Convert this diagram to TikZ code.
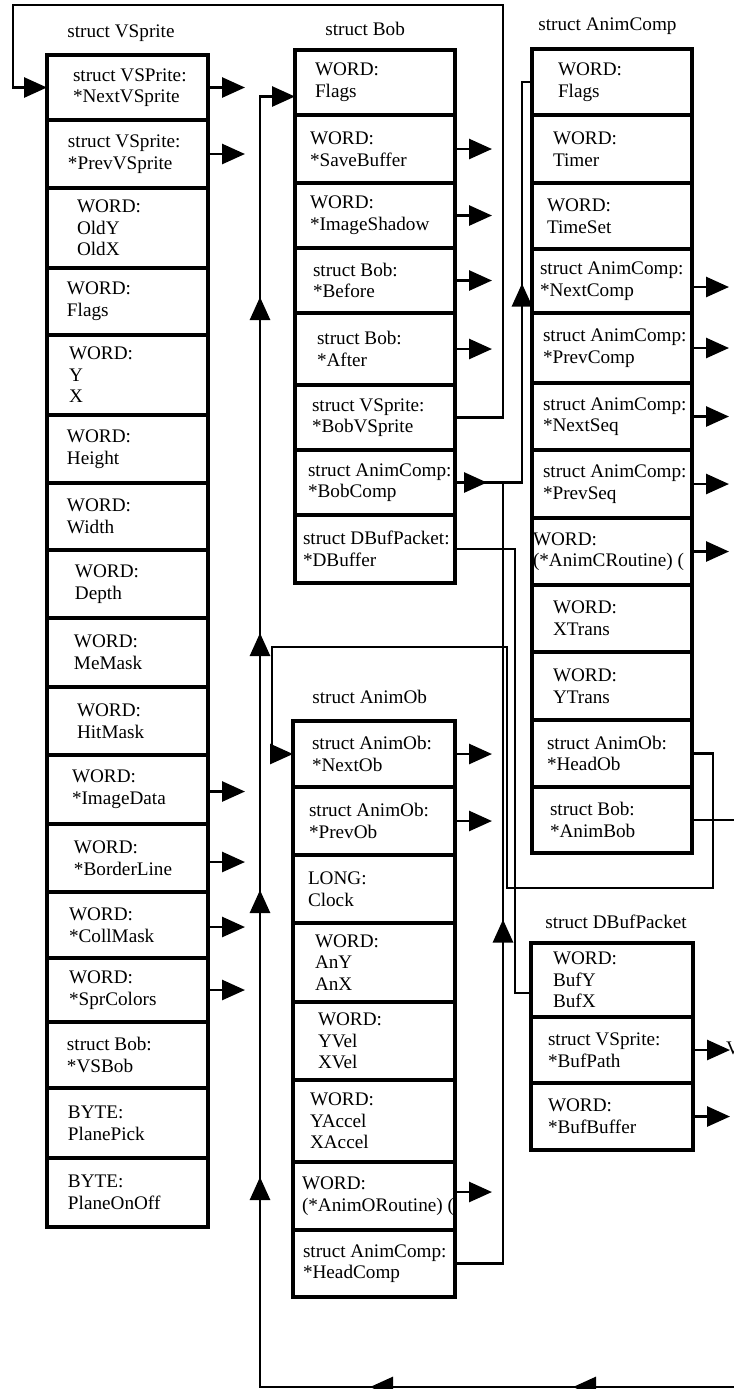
\documentclass[tikz,border=0pt]{standalone}
\usepackage{fontspec}
\setmainfont{Liberation Serif}
\usetikzlibrary{arrows.meta,decorations.markings}
\newcommand\mkfld[7]{%
  \node[cellbox, minimum width={#5*0.5pt}, minimum height={(#4-#3)*0.5pt}, anchor=north west] (#1) at (#2,#3) {};
  \node[celltext, anchor=west] (#1t) at ([xshift=#6*0.5pt]#1.west) {#7};}
\newcommand\mkptr[2][0pt]{%
  \coordinate (#2p) at ([xshift=18.5pt, yshift=#1]#2.east);
  \draw[conn,-bigtri] ([yshift=#1]#2.east) -- (#2p);}
\begin{document}
\begin{tikzpicture}[x=0.5pt,y=-0.5pt,
  cellbox/.style={draw, line width=1.8pt, inner sep=0pt, outer sep=0pt},
  celltext/.style={font=\fontsize{9.6}{10.8}\selectfont, align=left, inner sep=0pt, outer sep=0pt},
  ttl/.style={font=\fontsize{9.6}{10.8}\selectfont, inner sep=0pt, anchor=base west},
  conn/.style={line width=1.4pt},
  bigtri/.tip={Triangle[length=11.5pt,width=10pt]},
  ]
\fill[white] (0,0) rectangle (734,1389);
\useasboundingbox (0,0) rectangle (734,1389);

% ---------- struct VSprite ----------
\node[ttl] (tv) at (67,37) {struct VSprite};
\mkfld{v1}{47}{55}{120}{161}{26}{struct VSPrite:\\*NextVSprite}
\mkfld{v2}{47}{120}{188}{161}{21}{struct VSprite:\\*PrevVSprite}
\mkfld{v3}{47}{188}{268}{161}{30}{WORD:\\OldY\\OldX}
\mkfld{v4}{47}{268}{335}{161}{20}{WORD:\\Flags}
\mkfld{v5}{47}{335}{415}{161}{22}{WORD:\\Y\\X}
\mkfld{v6}{47}{415}{483}{161}{20}{WORD:\\Height}
\mkfld{v7}{47}{483}{550}{161}{20}{WORD:\\Width}
\mkfld{v8}{47}{550}{618}{161}{28}{WORD:\\Depth}
\mkfld{v9}{47}{618}{687}{161}{27}{WORD:\\MeMask}
\mkfld{v10}{47}{687}{755}{161}{30}{WORD:\\HitMask}
\mkfld{v11}{47}{755}{824}{161}{25}{WORD:\\*ImageData}
\mkfld{v12}{47}{824}{892}{161}{27}{WORD:\\*BorderLine}
\mkfld{v13}{47}{892}{958}{161}{22}{WORD:\\*CollMask}
\mkfld{v14}{47}{958}{1022}{161}{22}{WORD:\\*SprColors}
\mkfld{v15}{47}{1022}{1088}{161}{20}{struct Bob:\\*VSBob}
\mkfld{v16}{47}{1088}{1158}{161}{21}{BYTE:\\PlanePick}
\mkfld{v17}{47}{1158}{1227}{161}{21}{BYTE:\\PlaneOnOff}
\mkptr{v1}\mkptr{v2}\mkptr[-1pt]{v11}\mkptr[-2pt]{v12}\mkptr[-1pt]{v13}\mkptr{v14}

% ---------- struct Bob ----------
\node[ttl] (tb) at (325,35) {struct Bob};
\mkfld{b1}{295}{50}{115}{160}{20}{WORD:\\Flags}
\mkfld{b2}{295}{115}{183}{160}{15}{WORD:\\*SaveBuffer}
\mkfld{b3}{295}{183}{248}{160}{15}{WORD:\\*ImageShadow}
\mkfld{b4}{295}{248}{313}{160}{18}{struct Bob:\\*Before}
\mkfld{b5}{295}{313}{385}{160}{22}{struct Bob:\\*After}
\mkfld{b6}{295}{385}{450}{160}{17}{struct VSprite:\\*BobVSprite}
\mkfld{b7}{295}{450}{515}{160}{13}{struct AnimComp:\\*BobComp}
\mkfld{b8}{295}{515}{583}{160}{8}{struct DBufPacket:\\*DBuffer}
\mkptr{b2}\mkptr{b3}\mkptr{b4}\mkptr{b5}

% ---------- struct AnimComp ----------
\node[ttl] (tc) at (538,30) {struct AnimComp};
\mkfld{c1}{532}{49}{115}{160}{26}{WORD:\\Flags}
\mkfld{c2}{532}{115}{183}{160}{21}{WORD:\\Timer}
\mkfld{c3}{532}{183}{249}{160}{15}{WORD:\\TimeSet}
\mkfld{c4}{532}{249}{313}{160}{8}{struct AnimComp:\\*NextComp}
\mkfld{c5}{532}{313}{383}{160}{11}{struct AnimComp:\\*PrevComp}
\mkfld{c6}{532}{383}{450}{160}{11}{struct AnimComp:\\*NextSeq}
\mkfld{c7}{532}{450}{518}{160}{11}{struct AnimComp:\\*PrevSeq}
\mkfld{c8}{532}{518}{585}{160}{1}{WORD:\\(*AnimCRoutine) (}
\mkfld{c9}{532}{585}{652}{160}{21}{WORD:\\XTrans}
\mkfld{c10}{532}{652}{720}{160}{21}{WORD:\\YTrans}
\mkfld{c11}{532}{720}{787}{160}{15}{struct AnimOb:\\*HeadOb}
\mkfld{c12}{532}{787}{853}{160}{18}{struct Bob:\\*AnimBob}
\mkptr[-3pt]{c4}\mkptr{c5}\mkptr{c6}\mkptr{c7}\mkptr{c8}

% ---------- struct AnimOb ----------
\node[ttl] (to) at (312,703) {struct AnimOb};
\mkfld{o1}{293}{721}{787}{162}{19}{struct AnimOb:\\*NextOb}
\mkfld{o2}{293}{787}{855}{162}{16}{struct AnimOb:\\*PrevOb}
\mkfld{o3}{293}{855}{923}{162}{15}{LONG:\\Clock}
\mkfld{o4}{293}{923}{1002}{162}{22}{WORD:\\AnY\\AnX}
\mkfld{o5}{293}{1002}{1080}{162}{25}{WORD:\\YVel\\XVel}
\mkfld{o6}{293}{1080}{1162}{162}{17}{WORD:\\YAccel\\XAccel}
\mkfld{o7}{293}{1162}{1230}{162}{9}{WORD:\\(*AnimORoutine) (}
\mkfld{o8}{293}{1230}{1297}{162}{10}{struct AnimComp:\\*HeadComp}
\mkptr{o1}\mkptr{o2}\mkptr[2pt]{o7}

% ---------- struct DBufPacket ----------
\node[ttl] (td) at (545,928) {struct DBufPacket};
\mkfld{d1}{531}{943}{1017}{162}{22}{WORD:\\BufY\\BufX}
\mkfld{d2}{531}{1017}{1083}{162}{17}{struct VSprite:\\*BufPath}
\mkfld{d3}{531}{1083}{1150}{162}{17}{WORD:\\*BufBuffer}
\mkptr{d2}\mkptr{d3}
\node[celltext, anchor=west] (vcut) at (726,1048) {V};

% ---------- connectors ----------
\coordinate (topR) at (503,5);
\coordinate (topL) at (13,5);
\draw[conn,-bigtri] (b6.east) -| (topR) -- (topL) |- (v1.west);

\coordinate (bcx) at (522,0);
\draw[conn, postaction={decorate}, decoration={markings,
   mark=at position 16pt with {\arrow{bigtri}},
   mark=at position 133pt with {\arrow{bigtri}}}]
  (b7.east) -- (b7.east -| bcx) |- (c1.west);

\coordinate (hcx) at (503,0);
\draw[conn, postaction={decorate}, decoration={markings,
   mark=at position 196pt with {\arrow{bigtri}}}]
  (o8.east) -| (b7.east -| hcx);

\coordinate (dbx) at (515,0);
\draw[conn] (b8.east) -- (b8.east -| dbx) |- ([yshift=-6.5pt]d1.west);

\coordinate (hoA) at (713,888);
\coordinate (hoB) at (507,647);
\coordinate (hoC) at (272,647);
\draw[conn,-bigtri] (c11.east) -| (hoA) -| (hoB) -- (hoC) |- (o1.west);

\coordinate (offB) at (738,1387);
\coordinate (botL) at (260,1387);
\draw[conn, postaction={decorate}, decoration={markings,
   mark=at position 389pt with {\arrow{bigtri}},
   mark=at position 490.5pt with {\arrow{bigtri}},
   mark=at position 650.5pt with {\arrow{bigtri}},
   mark=at position 794pt with {\arrow{bigtri}},
   mark=at position 922.5pt with {\arrow{bigtri}},
   mark=at position 1090.5pt with {\arrow{bigtri}}}, -bigtri]
  (c12.east) -| (offB) -- (botL) |- ([yshift=-7pt]b1.west);
\end{tikzpicture}
\end{document}
